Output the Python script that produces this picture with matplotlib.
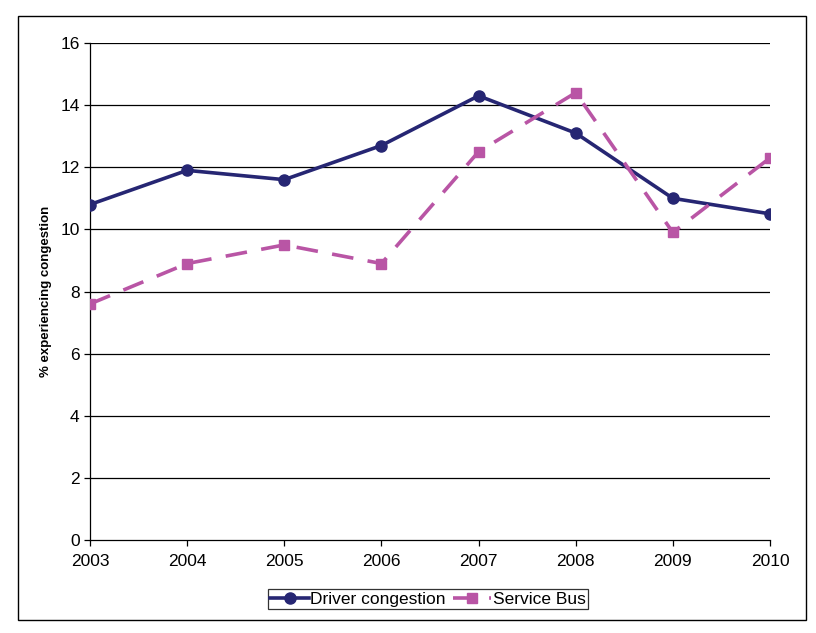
import matplotlib
matplotlib.use("Agg")
import matplotlib.pyplot as plt
from matplotlib.patches import Rectangle

# data
years = [2003, 2004, 2005, 2006, 2007, 2008, 2009, 2010]
driver = [10.8, 11.9, 11.6, 12.7, 14.3, 13.1, 11.0, 10.5]
bus = [7.6, 8.9, 9.5, 8.9, 12.5, 14.4, 9.9, 12.3]
yticks = [0, 2, 4, 6, 8, 10, 12, 14, 16]

plt.rcParams['font.family'] = ['Liberation Sans', 'DejaVu Sans']

fig = plt.figure(figsize=(8.16, 6.33), dpi=100)
ax = fig.add_axes([90 / 816, 93 / 633, 680 / 816, 497 / 633])

# outer frame around the whole chart
fig.patches.append(Rectangle((18 / 816, 13 / 633), 788 / 816, 604 / 633,
                             transform=fig.transFigure, fill=False,
                             edgecolor='black', linewidth=1.0))

for y in yticks[1:]:
    ax.axhline(y, color='black', linewidth=0.9, zorder=1)

ax.plot(years, driver, color='#262673', linewidth=2.6, marker='o',
        markersize=8, label='Driver congestion', zorder=3)
ax.plot(years, bus, color='#b955a5', linewidth=2.6, marker='s',
        markersize=7.5, dashes=(6, 4), label='Service Bus', zorder=3)

ax.set_xlim(2003, 2010)
ax.set_ylim(0, 16)
ax.set_yticks(yticks)
ax.set_xticks(years)
ax.tick_params(axis='both', labelsize=12.5, direction='out', length=4,
               width=0.9, colors='black')
ax.tick_params(axis='x', pad=6)
ax.spines['top'].set_visible(False)
ax.spines['right'].set_visible(False)
ax.spines['left'].set_linewidth(0.9)
ax.spines['bottom'].set_linewidth(0.9)
ax.set_ylabel('% experiencing congestion', fontsize=9.5, fontweight='bold',
              labelpad=6)

leg = fig.legend(loc='center', bbox_to_anchor=(428 / 816, 1 - 599 / 633),
                 ncol=2, fontsize=12.5, frameon=True, fancybox=False,
                 edgecolor='black', borderpad=0.15, handlelength=2.2,
                 handletextpad=0.1, columnspacing=0.4)
leg.get_frame().set_linewidth(0.9)

fig.savefig('out.png', dpi=100)
